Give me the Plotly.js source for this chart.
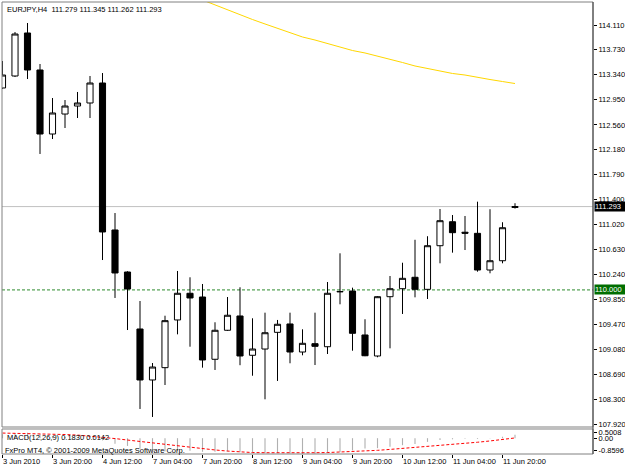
<!DOCTYPE html>
<html>
<head>
<meta charset="utf-8">
<script src="https://cdn.plot.ly/plotly-3.0.1.min.js"></script>
<style>html,body{margin:0;padding:0;background:#fff;}#chart{width:625px;height:469px;}</style>
</head>
<body>
<div id="chart"></div>
<script>
// ---- data (H4 bars, index 0 = 3 Jun 2010 04:00) ----
const barIndex = [0,1,2,3,4,5,6,7,8,9,10,11,12,13,14,15,16,17,18,19,20,21,22,23,24,25,26,27,28,29,30,31,32,33,34,35,36,37,38,39,40,41];
const openP  = [113.133,113.319,113.986,113.412,112.419,112.729,112.853,112.900,113.210,110.930,110.278,109.394,108.603,108.794,109.534,109.948,109.890,108.924,109.374,109.596,108.986,109.083,109.342,109.472,109.037,109.166,109.119,109.970,109.983,109.301,108.975,109.895,110.019,110.196,110.009,110.686,111.058,110.895,110.878,110.309,110.453,111.279];
const highP  = [113.551,114.001,114.141,113.505,112.977,112.946,113.071,113.319,113.365,111.193,110.290,109.828,108.866,109.600,110.294,110.196,110.092,109.498,109.890,110.041,109.560,109.647,109.534,109.647,109.389,109.647,110.123,110.568,110.035,109.545,109.905,110.216,110.422,110.778,110.833,111.255,111.162,111.147,111.369,111.252,111.050,111.345];
const lowP   = [113.120,113.303,113.272,112.109,112.341,112.512,112.667,112.667,110.464,109.875,109.378,108.153,108.029,108.525,109.311,109.119,108.794,108.758,109.363,108.832,108.669,108.303,108.588,108.862,108.986,108.835,109.006,109.777,109.057,108.972,108.955,109.094,109.627,109.885,109.859,110.413,110.578,110.619,110.283,110.258,110.413,111.262];
const closeP = [113.334,113.970,113.412,112.419,112.745,112.853,112.900,113.210,110.899,110.263,110.014,108.603,108.804,109.523,109.948,109.875,108.913,109.374,109.607,108.975,109.083,109.336,109.467,109.037,109.172,109.125,109.948,109.975,109.327,108.979,109.895,110.019,110.180,110.009,110.686,111.074,110.888,110.880,110.309,110.453,110.965,111.293];
const movingAvg = [null,null,null,null,null,null,null,null,null,null,null,null,null,null,null,null,114.498,114.420,114.343,114.265,114.195,114.126,114.056,113.986,113.924,113.877,113.823,113.769,113.714,113.676,113.629,113.575,113.528,113.474,113.435,113.396,113.358,113.334,113.295,113.264,113.233,113.202];
const macdMain = [0.22,0.28,0.30,0.22,0.12,0.06,0.03,0.04,-0.12,-0.30,-0.42,-0.58,-0.68,-0.72,-0.70,-0.68,-0.74,-0.74,-0.72,-0.76,-0.78,-0.80,-0.80,-0.83,-0.86,-0.84,-0.80,-0.77,-0.66,-0.56,-0.54,-0.46,-0.38,-0.32,-0.20,-0.10,-0.06,-0.03,-0.04,-0.02,0.08,0.183];
const macdSignal = [0.28,0.27,0.26,0.245,0.23,0.20,0.17,0.12,0.065,-0.02,-0.10,-0.18,-0.26,-0.34,-0.42,-0.51,-0.59,-0.64,-0.70,-0.75,-0.78,-0.79,-0.80,-0.80,-0.80,-0.79,-0.78,-0.76,-0.74,-0.71,-0.66,-0.61,-0.56,-0.51,-0.46,-0.41,-0.35,-0.29,-0.22,-0.15,-0.07,0.0142];
const timeTickIndex = [0,4,8,12,16,20,24,28,32,36,40];
const timeTickText = ['3 Jun 2010','3 Jun 20:00','4 Jun 12:00','7 Jun 04:00','7 Jun 20:00','8 Jun 12:00','9 Jun 04:00','9 Jun 20:00','10 Jun 12:00','11 Jun 04:00','11 Jun 20:00'];
const priceTicks = [114.110,113.730,113.340,112.950,112.560,112.180,111.790,111.400,111.020,110.630,110.240,109.850,109.470,109.080,108.690,108.300,107.920];
const macdTickVals = [0.33,0.0,-0.65];
const macdTickText = ['0.5008','0.00','-0.8596'];
const bidPrice = 111.293;
const levelPrice = 110.000;
const titleText = 'EURJPY,H4  111.279 111.345 111.262 111.293';
const macdText = 'MACD(12,26,9) 0.1830 0.0142';
const copyrightText = 'FxPro MT4, © 2001-2009 MetaQuotes Software Corp.';

const FONT = 'Liberation Sans, Arial, sans-serif';
const FS = 7.5;
const mainBottom = 0.05973, macdTop = 0.05531;

const traces = [
  {
    type:'candlestick', x:barIndex, open:openP, high:highP, low:lowP, close:closeP,
    xaxis:'x', yaxis:'y', hoverinfo:'none', whiskerwidth:0,
    increasing:{line:{color:'#000000', width:1}, fillcolor:'#ffffff'},
    decreasing:{line:{color:'#000000', width:1}, fillcolor:'#000000'}
  },
  {
    type:'scatter', mode:'lines', x:barIndex, y:movingAvg, xaxis:'x', yaxis:'y',
    line:{color:'#FFD700', width:1}, hoverinfo:'none', connectgaps:false
  },
  {
    type:'bar', x:barIndex, y:macdMain, xaxis:'x', yaxis:'y2', width:0.09,
    marker:{color:'#b0b0b0', line:{width:0}}, hoverinfo:'none'
  },
  {
    type:'scatter', mode:'lines', x:barIndex, y:macdSignal, xaxis:'x', yaxis:'y2',
    line:{color:'#ff0000', width:1, dash:'3px,2px'}, hoverinfo:'none'
  }
];

const layout = {
  width:625, height:469,
  margin:{l:2, r:32, t:2, b:15, pad:0},
  paper_bgcolor:'#ffffff', plot_bgcolor:'#ffffff',
  showlegend:false,
  font:{family:FONT, size:FS, color:'#000000'},
  xaxis:{
    domain:[0,1], range:[-0.04, 47.24], anchor:'y2',
    tickmode:'array', tickvals:timeTickIndex, ticktext:timeTickText,
    ticks:'outside', ticklen:3, tickcolor:'#000000', ticklabelposition:'outside right',
    tickangle:0, automargin:false, ticklabelstandoff:0,
    tickfont:{family:FONT, size:FS, color:'#000000'},
    showgrid:false, zeroline:false, showline:false,
    rangeslider:{visible:false}, fixedrange:true
  },
  yaxis:{
    domain:[mainBottom,1], range:[107.8734,114.4668], side:'right', anchor:'x',
    tickmode:'array', tickvals:priceTicks, ticktext:priceTicks.map(v=>v.toFixed(3)),
    ticks:'outside', ticklen:3, tickcolor:'#000000',
    tickfont:{family:FONT, size:FS, color:'#000000'},
    showgrid:false, zeroline:false, showline:false, fixedrange:true
  },
  yaxis2:{
    domain:[0,macdTop], range:[-0.8596,0.5008], side:'right', anchor:'x',
    tickmode:'array', tickvals:macdTickVals, ticktext:macdTickText,
    ticks:'outside', ticklen:3, tickcolor:'#000000',
    tickfont:{family:FONT, size:FS, color:'#000000'},
    showgrid:false, zeroline:false, showline:false, fixedrange:true
  },
  shapes:[
    {type:'line', xref:'paper', yref:'y', x0:0, x1:1, y0:bidPrice, y1:bidPrice, line:{color:'#c0c0c0', width:1}, layer:'below'},
    {type:'line', xref:'paper', yref:'y', x0:0, x1:1, y0:levelPrice, y1:levelPrice, line:{color:'#2e8b2e', width:1, dash:'3px,2px'}, layer:'below'},
    {type:'rect', xref:'paper', yref:'paper', x0:0, x1:1, y0:mainBottom, y1:1, line:{color:'#808080', width:1}},
    {type:'rect', xref:'paper', yref:'paper', x0:0, x1:1, y0:0, y1:macdTop, line:{color:'#808080', width:1}},
    {type:'line', xref:'paper', yref:'paper', x0:1, x1:1, y0:0, y1:1, line:{color:'#404040', width:1}}
  ],
  annotations:[
    {xref:'paper', yref:'paper', x:0, y:1, xanchor:'left', yanchor:'top', xshift:3, yshift:-1,
     text:titleText, showarrow:false, font:{family:FONT, size:FS, color:'#000000'}},
    {xref:'paper', yref:'paper', x:0, y:macdTop, xanchor:'left', yanchor:'top', xshift:3, yshift:-2,
     text:macdText, showarrow:false, font:{family:FONT, size:FS, color:'#000000'}},
    {xref:'paper', yref:'paper', x:0, y:macdTop, xanchor:'left', yanchor:'top', xshift:1, yshift:-15,
     text:copyrightText, showarrow:false, font:{family:FONT, size:FS, color:'#000000'}},
    {xref:'paper', yref:'y', x:1, y:bidPrice, xanchor:'left', yanchor:'middle', xshift:1,
     text:bidPrice.toFixed(3), showarrow:false, bgcolor:'#000000', borderpad:0, width:31, height:9, align:'left',
     font:{family:FONT, size:FS, color:'#ffffff'}},
    {xref:'paper', yref:'y', x:1, y:levelPrice, xanchor:'left', yanchor:'middle', xshift:1,
     text:levelPrice.toFixed(3), showarrow:false, bgcolor:'#006e00', borderpad:0, width:31, height:9, align:'left',
     font:{family:FONT, size:FS, color:'#ffffff'}}
  ]
};

Plotly.newPlot('chart', traces, layout, {displayModeBar:false, staticPlot:true});
</script>
</body>
</html>
